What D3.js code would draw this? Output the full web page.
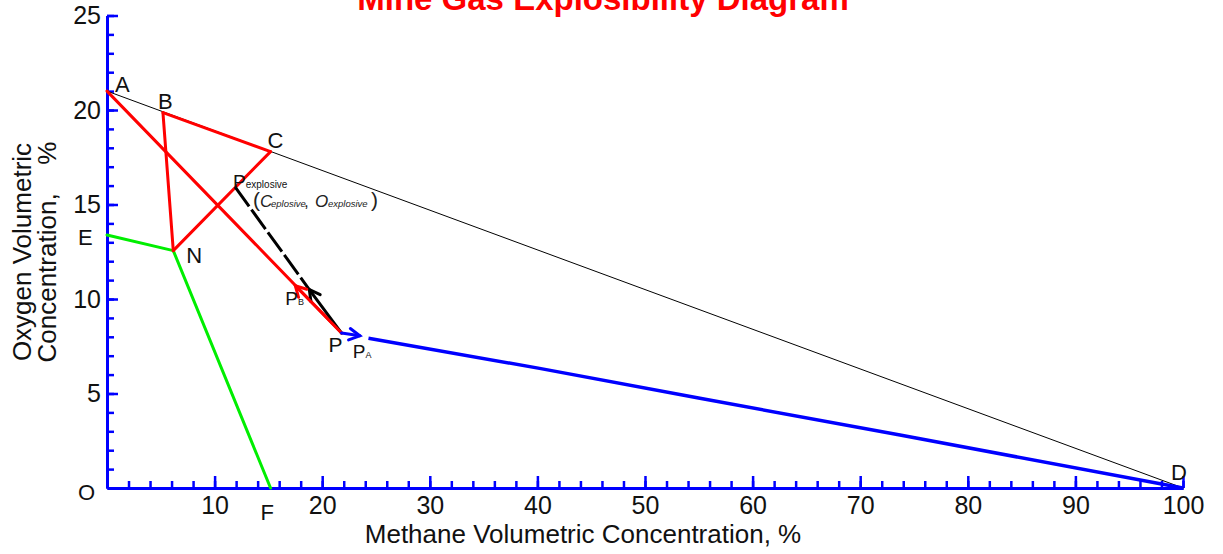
<!DOCTYPE html>
<html>
<head>
<meta charset="utf-8">
<script src="https://cdn.jsdelivr.net/npm/d3@7"></script>
<style>
body { margin: 0; background: #fff; }
text { font-family: "Liberation Sans", Arial, sans-serif; }
</style>
</head>
<body>
<div id="chart"></div>
<script>
const width = 1223, height = 554;

// key points of the diagram: methane % and oxygen %
const pointNames = ["A", "B", "C", "D", "E", "F", "N", "P", "Pexp", "PA", "PB", "PX"];
const pointCH4 = [0, 5.2, 15.2, 100, 0, 15.2, 6.16, 21.8, 11.9, 23.5, 17.5, 18.8];
const pointO2 = [21, 19.86, 17.8, 0, 13.39, 0, 12.56, 8.2, 15.93, 8.05, 10.7, 10.5];

const boundaryLines = [["A", "D"]];
const redLines = [["A", "P"], ["B", "C"], ["B", "N"], ["C", "N"]];
const greenLines = [["E", "N"], ["N", "F"]];

// blue track from P_A towards D
const blueCH4 = [24.3, 40.2, 55.1, 73.7, 100];
const blueO2 = [7.92, 6.33, 4.75, 2.80, 0];

const xMajorTicks = [10, 20, 30, 40, 50, 60, 70, 80, 90, 100];
const yMajorTicks = [5, 10, 15, 20, 25];

const pt = {};
pointNames.forEach((n, i) => pt[n] = [pointCH4[i], pointO2[i]]);

let svg = d3.select('#chart')
            .append('svg')
            .attr('width', width)
            .attr('height', height);

let x = d3.scaleLinear().domain([0, 100]).range([107, 1183]);
let y = d3.scaleLinear().domain([0, 25]).range([488, 15.5]);

// title (cut at the top like the original)
svg.append('text')
    .attr('x', 603).attr('y', 10)
    .attr('text-anchor', 'middle')
    .style('font-size', '33px').style('font-weight', 'bold')
    .style('fill', '#ff0000')
    .text('Mine Gas Explosibility Diagram');

// axes
function styleAxis(g) {
    g.select('.domain').attr('stroke', '#0000ff').attr('stroke-width', 3);
    g.selectAll('.tick line').attr('stroke', '#0000ff').attr('stroke-width', 2.5);
    g.selectAll('.tick text').style('font-size', '25px').style('fill', '#111')
        .style('font-family', '"Liberation Sans", Arial, sans-serif');
}

svg.append('g').attr('transform', 'translate(0,488)')
    .call(d3.axisBottom(x).tickValues(d3.range(2, 101, 2)).tickSize(-7).tickSizeOuter(0).tickFormat(''))
    .call(styleAxis);
svg.append('g').attr('transform', 'translate(0,488)')
    .call(d3.axisBottom(x).tickValues(xMajorTicks).tickSize(-12).tickSizeOuter(0).tickPadding(8))
    .call(styleAxis);

svg.append('g').attr('transform', 'translate(107,0)')
    .call(d3.axisLeft(y).tickValues(d3.range(1, 26, 1)).tickSize(-7).tickSizeOuter(0).tickFormat(''))
    .call(styleAxis);
svg.append('g').attr('transform', 'translate(107,0)')
    .call(d3.axisLeft(y).tickValues(yMajorTicks).tickSize(-11).tickSizeOuter(0).tickPadding(6))
    .call(styleAxis);

// axis titles
svg.append('text')
    .attr('x', 583).attr('y', 543)
    .attr('text-anchor', 'middle')
    .style('font-size', '26px').style('fill', '#111')
    .text('Methane Volumetric Concentration, %');

svg.append('text')
    .attr('transform', 'translate(31,252) rotate(-90)')
    .attr('text-anchor', 'middle')
    .style('font-size', '26px').style('fill', '#111')
    .text('Oxygen Volumetric');
let yt2 = svg.append('g').attr('transform', 'translate(56,252) rotate(-90)');
yt2.append('text').attr('x', -110.5).attr('text-anchor', 'start')
    .style('font-size', '26px').style('fill', '#111').text('Concentration,');
yt2.append('text').attr('x', 110.5).attr('text-anchor', 'end')
    .style('font-size', '26px').style('fill', '#111').text('%');

// segments
let line = d3.line().x(d => x(d[0])).y(d => y(d[1]));

function drawSegments(list, color, w) {
    svg.append('g').selectAll('path')
        .data(list)
        .enter()
        .append('path')
        .attr('d', d => line([pt[d[0]], pt[d[1]]]))
        .attr('fill', 'none')
        .attr('stroke', color)
        .attr('stroke-width', w)
        .attr('stroke-linecap', 'round');
}

drawSegments(boundaryLines, '#000', 1);
drawSegments(greenLines, '#00ee00', 3);
drawSegments(redLines, '#ff0000', 3);

// black dashed line from P_explosive to the black arrow tip
svg.append('path')
    .attr('d', line([pt.Pexp, pt.PX]))
    .attr('fill', 'none').attr('stroke', '#000').attr('stroke-width', 3)
    .attr('stroke-dasharray', '24,4');

// blue track
svg.append('path')
    .datum(blueCH4.map((c, i) => [c, blueO2[i]]))
    .attr('d', line)
    .attr('fill', 'none')
    .attr('stroke', '#0000ff')
    .attr('stroke-width', 3.5);

// arrows from P
function arrow(from, to, color) {
    let x1 = x(from[0]), y1 = y(from[1]), x2 = x(to[0]), y2 = y(to[1]);
    let a = Math.atan2(y2 - y1, x2 - x1);
    let len = 12, spread = 0.5;
    let g = svg.append('g').attr('stroke', color).attr('stroke-width', 3)
        .attr('fill', 'none').attr('stroke-linecap', 'round');
    g.append('path').attr('d', `M${x1},${y1}L${x2},${y2}`);
    g.append('path').attr('d',
        `M${x2 - len * Math.cos(a - spread)},${y2 - len * Math.sin(a - spread)}` +
        `L${x2},${y2}` +
        `L${x2 - len * Math.cos(a + spread)},${y2 - len * Math.sin(a + spread)}`);
}
arrow(pt.P, pt.PX, '#000');
arrow(pt.P, pt.PB, '#ff0000');
arrow(pt.P, pt.PA, '#0000ff');

// point labels
const labelOffsets = { A: [8, 1], B: [-5, -4], C: [-3, -4], D: [-12, -8], E: [-29, 10], F: [-10, 32], N: [13, 12] };
Object.keys(labelOffsets).forEach(k => {
    svg.append('text')
        .attr('x', x(pt[k][0]) + labelOffsets[k][0])
        .attr('y', y(pt[k][1]) + labelOffsets[k][1])
        .style('font-size', '22px').style('fill', '#111')
        .text(k);
});
svg.append('text').attr('x', x(0) - 29).attr('y', y(0) + 12)
    .style('font-size', '22px').style('fill', '#111').text('O');

svg.append('text').attr('x', x(pt.P[0]) - 13).attr('y', y(pt.P[1]) + 19)
    .style('font-size', '21px').style('fill', '#111').text('P');

function subLabel(px, py, sub) {
    let t = svg.append('text').attr('x', px).attr('y', py).style('fill', '#111');
    t.append('tspan').style('font-size', '19px').text('P');
    t.append('tspan').style('font-size', '9px').text(sub);
}
subLabel(x(pt.PA[0]) - 7, y(pt.PA[1]) + 22, 'A');
subLabel(x(pt.PB[0]) - 10, y(pt.PB[1]) + 19, 'B');

// P_explosive and its coordinates
let px = x(pt.Pexp[0]), py = y(pt.Pexp[1]);
let pe = svg.append('text').attr('x', px - 2).attr('y', py + 1).style('fill', '#111');
pe.append('tspan').style('font-size', '19px').text('P');
pe.append('tspan').style('font-size', '10px').text('explosive');

let co = svg.append('text').attr('y', py + 20).style('fill', '#222');
co.append('tspan').attr('x', px + 18).style('font-size', '21px').text('(');
co.append('tspan').attr('x', px + 25).style('font-size', '17px').style('font-style', 'italic').text('C');
co.append('tspan').attr('x', px + 36).style('font-size', '9.5px').style('font-style', 'italic').text('eplosive');
co.append('tspan').attr('x', px + 69).style('font-size', '17px').text(',');
co.append('tspan').attr('x', px + 80).style('font-size', '17px').style('font-style', 'italic').text('O');
co.append('tspan').attr('x', px + 93).style('font-size', '9.5px').style('font-style', 'italic').text('explosive');
co.append('tspan').attr('x', px + 136).style('font-size', '21px').text(')');
</script>
</body>
</html>
